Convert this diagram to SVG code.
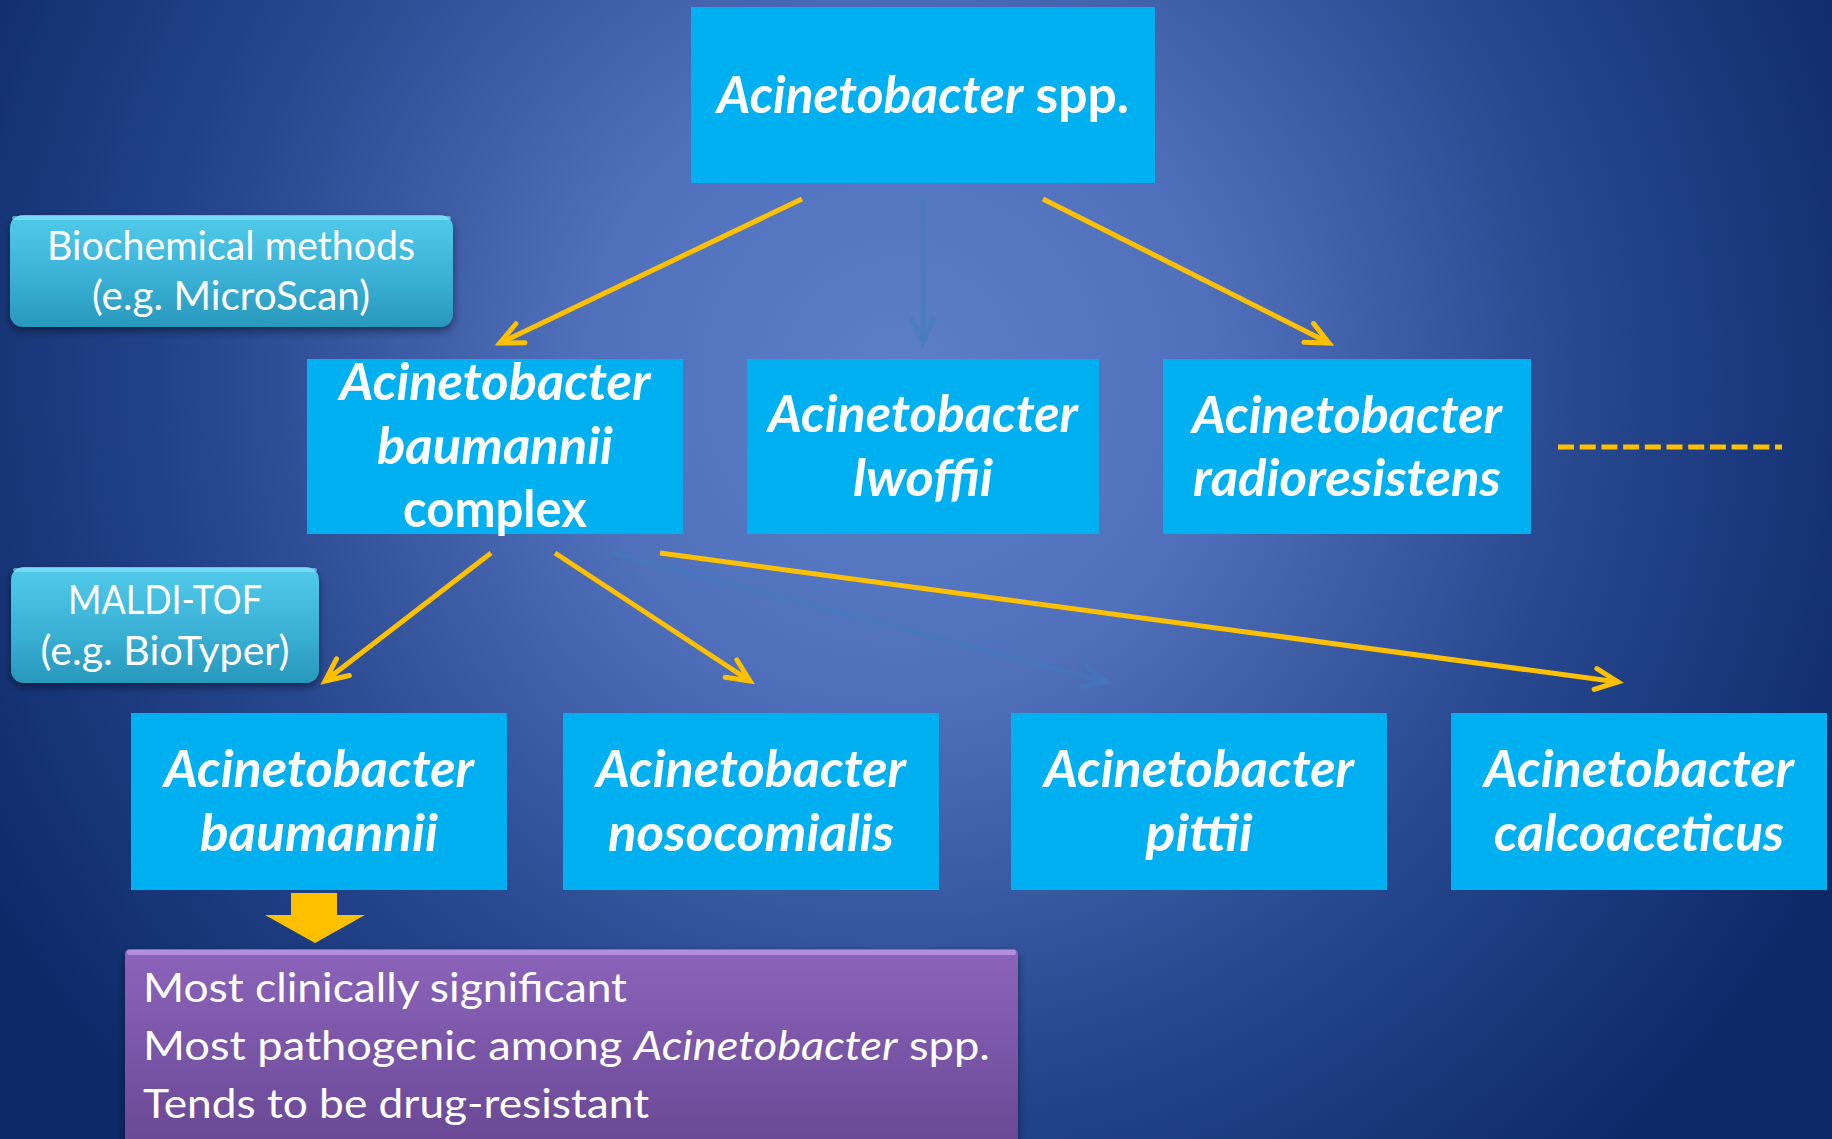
<svg xmlns="http://www.w3.org/2000/svg" width="1832" height="1139" viewBox="0 0 1832 1139">
<defs>
<radialGradient id="bg" gradientUnits="userSpaceOnUse" cx="900" cy="380" r="1050">
<stop offset="0" stop-color="#5c7fc7"/>
<stop offset="0.3" stop-color="#5070bb"/>
<stop offset="0.65" stop-color="#27478f"/>
<stop offset="1" stop-color="#0c2a68"/>
</radialGradient>
<linearGradient id="teal" x1="0" y1="0" x2="0" y2="1">
<stop offset="0" stop-color="#52cbea"/>
<stop offset="0.5" stop-color="#3cb4d8"/>
<stop offset="1" stop-color="#2898bc"/>
</linearGradient>
<linearGradient id="purple" x1="0" y1="0" x2="0" y2="1">
<stop offset="0" stop-color="#8c64bb"/>
<stop offset="1" stop-color="#684893"/>
</linearGradient>
<filter id="shadow" x="-10%" y="-10%" width="120%" height="140%">
<feDropShadow dx="0" dy="4" stdDeviation="4" flood-color="#000" flood-opacity="0.45"/>
</filter>
<marker id="ay" markerUnits="userSpaceOnUse" markerWidth="40" markerHeight="40" refX="30" refY="20" orient="auto" overflow="visible">
<path d="M7.3,9.5 L30,20 L7.3,30.5" fill="none" stroke="#ffc000" stroke-width="5" stroke-linecap="round"/>
</marker>
<marker id="ab" markerUnits="userSpaceOnUse" markerWidth="40" markerHeight="40" refX="30" refY="20" orient="auto" overflow="visible">
<path d="M7.3,9.5 L30,20 L7.3,30.5" fill="none" stroke="#3f7cc0" stroke-opacity="0.5" stroke-width="5" stroke-linecap="round"/>
</marker>
<style>
.box{fill:#00b0f0}
.lbl{font-family:Lato,"Open Sans","Liberation Sans",sans-serif;font-weight:bold;font-style:italic;font-size:52px;fill:#fff;text-anchor:middle}
.up{font-style:normal}
.side{font-family:Lato,"Open Sans","Liberation Sans",sans-serif;font-size:40px;fill:#fff;text-anchor:middle}
.note{font-family:Lato,"Open Sans","Liberation Sans",sans-serif;font-size:40px;fill:#fff}
.ya{fill:none;stroke:#ffc000;stroke-width:5;marker-end:url(#ay)}
.ba{fill:none;stroke:#3f7cc0;stroke-opacity:0.5;stroke-width:5;marker-end:url(#ab)}
</style>
</defs>
<rect x="0" y="0" width="1832" height="1139" fill="url(#bg)"/>

<g id="connectors">
<line class="ya" x1="802" y1="199" x2="500" y2="343"/>
<line class="ba" x1="923" y1="200" x2="923" y2="342"/>
<line class="ya" x1="1043" y1="199" x2="1329" y2="343"/>
<line class="ya" x1="491" y1="553" x2="325" y2="681"/>
<line class="ya" x1="555" y1="553" x2="750" y2="681"/>
<line class="ba" x1="612" y1="553" x2="1106" y2="682"/>
<line class="ya" x1="660" y1="553" x2="1618" y2="682"/>
<line x1="1558" y1="447" x2="1782" y2="447" stroke="#ffc000" stroke-width="5" stroke-dasharray="16,5.7"/>
<polygon points="291,893 337,893 337,915 365,915 315,943 265,915 291,915" fill="#ffc000"/>
</g>

<g id="node-spp">
<rect class="box" x="691" y="7" width="464" height="176"/>
<text class="lbl" x="923" y="113" textLength="412" lengthAdjust="spacingAndGlyphs">Acinetobacter<tspan class="up"> spp.</tspan></text>
</g>

<g id="label-biochemical">
<rect x="10" y="215" width="443" height="112" rx="13" fill="url(#teal)" filter="url(#shadow)"/>
<rect x="12" y="216" width="439" height="4" rx="2" fill="#8fe6fa" opacity="0.6"/>
<text class="side" x="231" y="260" textLength="368" lengthAdjust="spacingAndGlyphs">Biochemical methods</text>
<text class="side" x="231" y="310" textLength="278" lengthAdjust="spacingAndGlyphs">(e.g. MicroScan)</text>
</g>

<g id="node-abc">
<rect class="box" x="307" y="359" width="376" height="175"/>
<text class="lbl" x="495" y="400" textLength="311" lengthAdjust="spacingAndGlyphs">Acinetobacter</text>
<text class="lbl" x="495" y="464" textLength="236" lengthAdjust="spacingAndGlyphs">baumannii</text>
<text class="lbl up" x="495" y="527" textLength="184" lengthAdjust="spacingAndGlyphs">complex</text>
</g>

<g id="node-lwoffii">
<rect class="box" x="747" y="359" width="352" height="175"/>
<text class="lbl" x="923" y="432" textLength="310" lengthAdjust="spacingAndGlyphs">Acinetobacter</text>
<text class="lbl" x="923" y="496" textLength="140" lengthAdjust="spacingAndGlyphs">lwoffii</text>
</g>

<g id="node-radioresistens">
<rect class="box" x="1163" y="359" width="368" height="175"/>
<text class="lbl" x="1347" y="433" textLength="310" lengthAdjust="spacingAndGlyphs">Acinetobacter</text>
<text class="lbl" x="1347" y="496" textLength="308" lengthAdjust="spacingAndGlyphs">radioresistens</text>
</g>

<g id="label-maldi">
<rect x="11" y="567" width="308" height="116" rx="13" fill="url(#teal)" filter="url(#shadow)"/>
<rect x="13" y="568" width="304" height="4" rx="2" fill="#8fe6fa" opacity="0.6"/>
<text class="side" x="165" y="614" textLength="194" lengthAdjust="spacingAndGlyphs">MALDI-TOF</text>
<text class="side" x="165" y="665" textLength="249" lengthAdjust="spacingAndGlyphs">(e.g. BioTyper)</text>
</g>

<g id="node-baumannii">
<rect class="box" x="131" y="713" width="376" height="177"/>
<text class="lbl" x="319" y="787" textLength="310" lengthAdjust="spacingAndGlyphs">Acinetobacter</text>
<text class="lbl" x="319" y="851" textLength="238" lengthAdjust="spacingAndGlyphs">baumannii</text>
</g>

<g id="node-nosocomialis">
<rect class="box" x="563" y="713" width="376" height="177"/>
<text class="lbl" x="751" y="787" textLength="310" lengthAdjust="spacingAndGlyphs">Acinetobacter</text>
<text class="lbl" x="751" y="851" textLength="286" lengthAdjust="spacingAndGlyphs">nosocomialis</text>
</g>

<g id="node-pittii">
<rect class="box" x="1011" y="713" width="376" height="177"/>
<text class="lbl" x="1199" y="787" textLength="310" lengthAdjust="spacingAndGlyphs">Acinetobacter</text>
<text class="lbl" x="1199" y="851" textLength="107" lengthAdjust="spacingAndGlyphs">pittii</text>
</g>

<g id="node-calcoaceticus">
<rect class="box" x="1451" y="713" width="376" height="177"/>
<text class="lbl" x="1639" y="787" textLength="310" lengthAdjust="spacingAndGlyphs">Acinetobacter</text>
<text class="lbl" x="1639" y="851" textLength="290" lengthAdjust="spacingAndGlyphs">calcoaceticus</text>
</g>

<g id="note-significance">
<rect x="125" y="949" width="893" height="200" rx="5" fill="url(#purple)" filter="url(#shadow)"/>
<rect x="127" y="950" width="889" height="5" rx="2" fill="#c6a3ee" opacity="0.7"/>
<text class="note" x="143" y="1002" textLength="484" lengthAdjust="spacingAndGlyphs">Most clinically significant</text>
<text class="note" x="143" y="1060" textLength="847" lengthAdjust="spacingAndGlyphs">Most pathogenic among <tspan font-style="italic">Acinetobacter</tspan> spp.</text>
<text class="note" x="143" y="1118" textLength="506" lengthAdjust="spacingAndGlyphs">Tends to be drug-resistant</text>
</g>
</svg>
